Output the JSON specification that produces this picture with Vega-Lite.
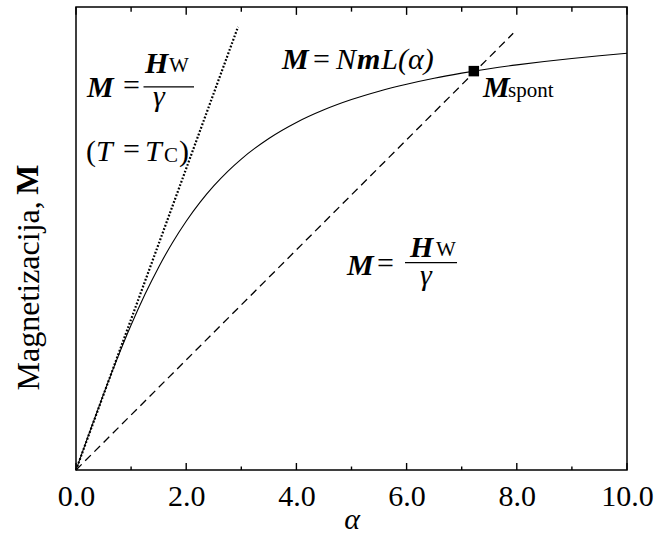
{
  "$schema": "https://vega.github.io/schema/vega-lite/v6.json",
  "width": 551,
  "height": 463,
  "autosize": {"type": "none"},
  "padding": {"left": 76, "top": 7, "right": 30, "bottom": 63},
  "background": "white",
  "config": {
    "font": "Liberation Serif",
    "view": {"stroke": "#000", "strokeWidth": 1.5},
    "axis": {"grid": false, "domain": false, "ticks": false, "labelColor": "#000", "titleColor": "#000", "labelFont": "Liberation Serif", "titleFont": "Liberation Serif"}
  },
  "datasets": {
    "curve": [
      {"a": 0, "m": 0}, {"a": 0.1, "m": 0.0333}, {"a": 0.25, "m": 0.083}, {"a": 0.5, "m": 0.164},
      {"a": 0.75, "m": 0.2411}, {"a": 1, "m": 0.313}, {"a": 1.25, "m": 0.3789}, {"a": 1.5, "m": 0.4381},
      {"a": 1.75, "m": 0.4909}, {"a": 2, "m": 0.5373}, {"a": 2.25, "m": 0.578}, {"a": 2.5, "m": 0.6136},
      {"a": 2.75, "m": 0.6446}, {"a": 3, "m": 0.6716}, {"a": 3.5, "m": 0.7161}, {"a": 4, "m": 0.7507},
      {"a": 4.5, "m": 0.778}, {"a": 5, "m": 0.8001}, {"a": 5.5, "m": 0.8182}, {"a": 6, "m": 0.8333},
      {"a": 6.5, "m": 0.8462}, {"a": 7, "m": 0.8571}, {"a": 7.5, "m": 0.8667}, {"a": 8, "m": 0.875},
      {"a": 8.5, "m": 0.8824}, {"a": 9, "m": 0.8889}, {"a": 9.5, "m": 0.8947}, {"a": 10, "m": 0.9}
    ],
    "dotted": [{"a": 0, "m": 0}, {"a": 2.94, "m": 0.957}],
    "dashed": [{"a": 0, "m": 0}, {"a": 7.935, "m": 0.9432}],
    "spont": [{"a": 7.22, "m": 0.8615}],
    "major": [{"a": 0}, {"a": 2}, {"a": 4}, {"a": 6}, {"a": 8}, {"a": 10}],
    "minor": [{"a": 1}, {"a": 3}, {"a": 5}, {"a": 7}, {"a": 9}],
    "ybold": [{"t": "M", "a": -0.69, "m": 0.5944}],
    "bi": [
      {"t": "M", "a": 0.2, "m": 0.806},
      {"t": "H", "a": 1.252, "m": 0.8576},
      {"t": "M", "a": 4.918, "m": 0.4218},
      {"t": "H", "a": 6.062, "m": 0.4606},
      {"t": "M", "a": 3.739, "m": 0.8662},
      {"t": "m", "a": 5.1, "m": 0.8662},
      {"t": "M", "a": 7.387, "m": 0.806}
    ],
    "it": [
      {"t": "γ", "a": 1.397, "m": 0.7864},
      {"t": "γ", "a": 6.243, "m": 0.4002},
      {"t": "T", "a": 0.363, "m": 0.6677},
      {"t": "T", "a": 1.252, "m": 0.6677},
      {"t": "N", "a": 4.719, "m": 0.8662},
      {"t": "L(α)", "a": 5.54, "m": 0.8662}
    ],
    "rg": [
      {"t": "=", "a": 0.853, "m": 0.8101},
      {"t": "=", "a": 5.463, "m": 0.4261},
      {"t": "=", "a": 4.301, "m": 0.8662},
      {"t": "(", "a": 0.181, "m": 0.6677},
      {"t": "=", "a": 0.853, "m": 0.6721},
      {"t": ")", "a": 1.869, "m": 0.6677}
    ],
    "sub": [
      {"t": "W", "a": 1.688, "m": 0.86},
      {"t": "W", "a": 6.534, "m": 0.4628},
      {"t": "C", "a": 1.597, "m": 0.6656},
      {"t": "spont", "a": 7.84, "m": 0.806}
    ],
    "bars": [
      {"a": 1.225, "a2": 2.142, "m": 0.8274},
      {"a": 5.971, "a2": 6.915, "m": 0.4477}
    ]
  },
  "layer": [
    {
      "data": {"name": "curve"},
      "mark": {"type": "line", "color": "#000", "strokeWidth": 1.1, "interpolate": "monotone"},
      "encoding": {
        "x": {"field": "a", "type": "quantitative", "scale": {"domain": [0, 10], "nice": false, "zero": false},
          "axis": {"orient": "bottom", "values": [0, 2, 4, 6, 8, 10], "format": ".1f", "labelFlush": false, "labelFontSize": 30, "labelPadding": 11, "title": "α", "titleFontSize": 30, "titleFontStyle": "italic", "titleFontWeight": "normal", "titleBaseline": "alphabetic", "titleY": 58}},
        "y": {"field": "m", "type": "quantitative", "scale": {"domain": [0, 1], "nice": false},
          "axis": {"labels": false, "title": "Magnetizacija,", "titleFontSize": 32, "titleFontWeight": "normal", "titleBaseline": "alphabetic", "titleAlign": "left", "titleX": -38, "titleY": 383}}
      }
    },
    {
      "data": {"name": "ybold"},
      "mark": {"type": "text", "font": "Liberation Serif", "fontSize": 32, "fontWeight": "bold", "angle": 270, "align": "left", "baseline": "alphabetic", "color": "#000"},
      "encoding": {
        "x": {"field": "a", "type": "quantitative", "scale": {"domain": [0, 10], "nice": false, "zero": false}, "axis": null},
        "y": {"field": "m", "type": "quantitative", "scale": {"domain": [0, 1], "nice": false}, "axis": null},
        "text": {"field": "t"}
      }
    },
    {
      "data": {"name": "major"},
      "layer": [
        {"mark": {"type": "rule", "color": "#000", "strokeWidth": 1.4},
         "encoding": {
           "x": {"field": "a", "type": "quantitative", "scale": {"domain": [0, 10], "nice": false, "zero": false}, "axis": null},
           "y": {"datum": 0, "type": "quantitative", "scale": {"domain": [0, 1], "nice": false}, "axis": null},
           "y2": {"datum": 0.0151}}},
        {"mark": {"type": "rule", "color": "#000", "strokeWidth": 1.4},
         "encoding": {
           "x": {"field": "a", "type": "quantitative", "scale": {"domain": [0, 10], "nice": false, "zero": false}, "axis": null},
           "y": {"datum": 1, "type": "quantitative", "scale": {"domain": [0, 1], "nice": false}, "axis": null},
           "y2": {"datum": 0.983}}}
      ]
    },
    {
      "data": {"name": "minor"},
      "layer": [
        {"mark": {"type": "rule", "color": "#000", "strokeWidth": 1.4},
         "encoding": {
           "x": {"field": "a", "type": "quantitative", "scale": {"domain": [0, 10], "nice": false, "zero": false}, "axis": null},
           "y": {"datum": 0, "type": "quantitative", "scale": {"domain": [0, 1], "nice": false}, "axis": null},
           "y2": {"datum": 0.0075}}},
        {"mark": {"type": "rule", "color": "#000", "strokeWidth": 1.4},
         "encoding": {
           "x": {"field": "a", "type": "quantitative", "scale": {"domain": [0, 10], "nice": false, "zero": false}, "axis": null},
           "y": {"datum": 1, "type": "quantitative", "scale": {"domain": [0, 1], "nice": false}, "axis": null},
           "y2": {"datum": 0.99}}}
      ]
    },
    {
      "data": {"name": "dashed"},
      "mark": {"type": "line", "color": "#000", "strokeWidth": 1.3, "strokeDash": [8, 5]},
      "encoding": {
        "x": {"field": "a", "type": "quantitative", "scale": {"domain": [0, 10], "nice": false, "zero": false}, "axis": null},
        "y": {"field": "m", "type": "quantitative", "scale": {"domain": [0, 1], "nice": false}, "axis": null}
      }
    },
    {
      "data": {"name": "dotted"},
      "mark": {"type": "line", "color": "#000", "strokeWidth": 2.2, "strokeDash": [1.8, 1.8]},
      "encoding": {
        "x": {"field": "a", "type": "quantitative", "scale": {"domain": [0, 10], "nice": false, "zero": false}, "axis": null},
        "y": {"field": "m", "type": "quantitative", "scale": {"domain": [0, 1], "nice": false}, "axis": null}
      }
    },
    {
      "data": {"name": "spont"},
      "mark": {"type": "square", "filled": true, "color": "#000", "size": 110, "opacity": 1},
      "encoding": {
        "x": {"field": "a", "type": "quantitative", "scale": {"domain": [0, 10], "nice": false, "zero": false}, "axis": null},
        "y": {"field": "m", "type": "quantitative", "scale": {"domain": [0, 1], "nice": false}, "axis": null}
      }
    },
    {
      "data": {"name": "bars"},
      "mark": {"type": "rule", "color": "#000", "strokeWidth": 1.3},
      "encoding": {
        "x": {"field": "a", "type": "quantitative", "scale": {"domain": [0, 10], "nice": false, "zero": false}, "axis": null},
        "x2": {"field": "a2"},
        "y": {"field": "m", "type": "quantitative", "scale": {"domain": [0, 1], "nice": false}, "axis": null}
      }
    },
    {
      "data": {"name": "bi"},
      "mark": {"type": "text", "font": "Liberation Serif", "fontSize": 30, "fontWeight": "bold", "fontStyle": "italic", "align": "left", "baseline": "alphabetic", "color": "#000"},
      "encoding": {
        "x": {"field": "a", "type": "quantitative", "scale": {"domain": [0, 10], "nice": false, "zero": false}, "axis": null},
        "y": {"field": "m", "type": "quantitative", "scale": {"domain": [0, 1], "nice": false}, "axis": null},
        "text": {"field": "t"}
      }
    },
    {
      "data": {"name": "it"},
      "mark": {"type": "text", "font": "Liberation Serif", "fontSize": 30, "fontStyle": "italic", "align": "left", "baseline": "alphabetic", "color": "#000"},
      "encoding": {
        "x": {"field": "a", "type": "quantitative", "scale": {"domain": [0, 10], "nice": false, "zero": false}, "axis": null},
        "y": {"field": "m", "type": "quantitative", "scale": {"domain": [0, 1], "nice": false}, "axis": null},
        "text": {"field": "t"}
      }
    },
    {
      "data": {"name": "rg"},
      "mark": {"type": "text", "font": "Liberation Serif", "fontSize": 30, "align": "left", "baseline": "alphabetic", "color": "#000"},
      "encoding": {
        "x": {"field": "a", "type": "quantitative", "scale": {"domain": [0, 10], "nice": false, "zero": false}, "axis": null},
        "y": {"field": "m", "type": "quantitative", "scale": {"domain": [0, 1], "nice": false}, "axis": null},
        "text": {"field": "t"}
      }
    },
    {
      "data": {"name": "sub"},
      "mark": {"type": "text", "font": "Liberation Serif", "fontSize": 21, "align": "left", "baseline": "alphabetic", "color": "#000"},
      "encoding": {
        "x": {"field": "a", "type": "quantitative", "scale": {"domain": [0, 10], "nice": false, "zero": false}, "axis": null},
        "y": {"field": "m", "type": "quantitative", "scale": {"domain": [0, 1], "nice": false}, "axis": null},
        "text": {"field": "t"}
      }
    }
  ],
  "resolve": {"axis": {"x": "independent", "y": "independent"}}
}
